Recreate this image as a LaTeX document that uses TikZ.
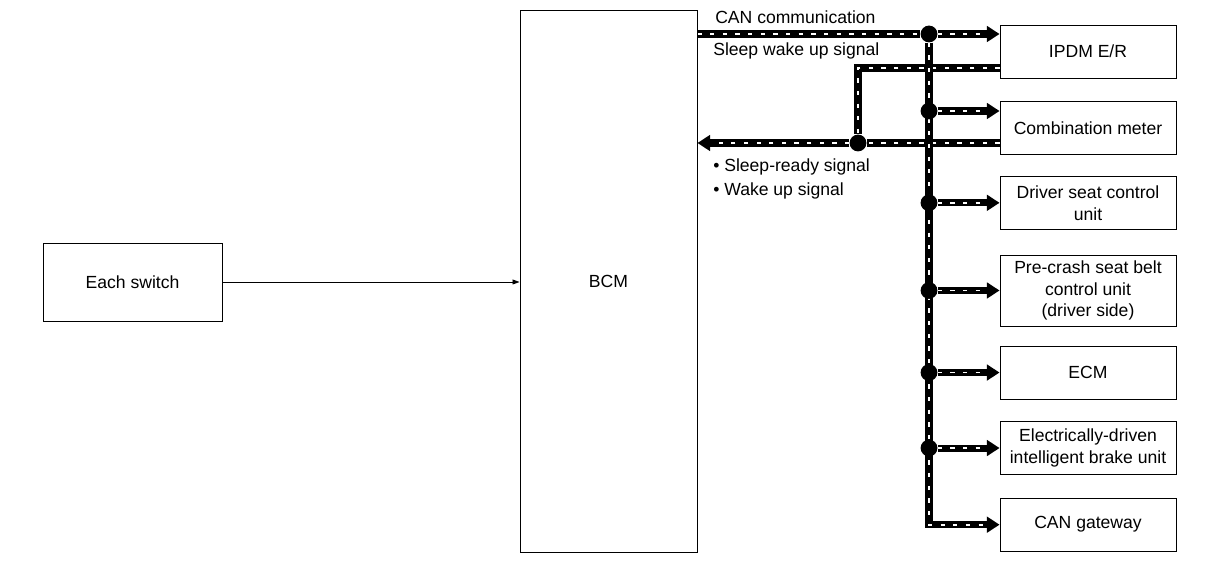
\documentclass[tikz,border=0pt]{standalone}
\usepackage{fontspec}
\setmainfont{Liberation Sans}
\usetikzlibrary{arrows.meta,positioning,backgrounds}

\begin{document}
\begin{tikzpicture}[
    x=0.025cm, y=-0.025cm,
    font=\fontsize{12.5}{15.5}\selectfont,
    unit/.style={draw, line width=0.6pt, minimum width=4.4cm, minimum height=1.325cm, align=center, inner sep=2pt},
    sig/.style={anchor=base west, inner sep=0pt},
    dot/.style={circle, fill=black, inner sep=0pt, minimum size=0.42cm},
    feed/.style={draw, line width=0.6pt, -{Triangle[length=5pt,width=3.5pt]}},
    bus/.style={draw, line width=5pt,
        postaction={draw=white, line width=1.3pt, dash pattern=on 3pt off 6pt}},
    busto/.style={draw, line width=5pt, -{Triangle[length=9pt,width=11pt]},
        postaction={draw=white, line width=1.3pt, dash pattern=on 3pt off 6pt, arrows=-, shorten >=10pt}}
]
\useasboundingbox (0,0) rectangle (1216,582);

% Main units
\node[unit, minimum width=4.475cm, minimum height=1.95cm] (sw) at (132.5,282) {Each switch};
\node[unit, minimum width=4.425cm, minimum height=13.55cm] (bcm) at (608.5,281) {BCM};

% CAN units
\node[unit] (ipdm) at (1088,51.5) {IPDM E/R};
\node[unit, below=0.56cm of ipdm] (comb) {Combination meter};
\node[unit, below=0.53cm of comb] (drv) {Driver seat control\\unit};
\node[unit, below=0.62cm of drv, minimum height=1.775cm] (pre) {Pre-crash seat belt\\control unit\\(driver side)};
\node[unit, below=0.48cm of pre] (ecm) {ECM};
\node[unit, below=0.54cm of ecm] (elec) {Electrically-driven\\intelligent brake unit};
\node[unit, below=0.57cm of elec] (gw) {CAN gateway};

% Junctions
\coordinate (busx) at (929,0);
\coordinate (wk) at (858,68);
\node[dot] (j1) at (929,34) {};
\node[dot] (j2) at (929,111) {};
\node[dot] (j3) at (busx |- drv) {};
\node[dot] (j4) at (busx |- pre) {};
\node[dot] (j5) at (busx |- ecm) {};
\node[dot] (j6) at (busx |- elec) {};
\node[dot] (s) at (858,143) {};

% Signal labels
\node[sig] (can) at (715,24) {CAN communication};
\node[sig] (wake) at (713,56) {Sleep wake up signal};
\node[sig] (ready) at (713,172) {\textbullet\ Sleep-ready signal};
\node[sig] (wkup) at (713,196) {\textbullet\ Wake up signal};

% Connections
\draw[feed] (sw) -- (sw -| bcm.west);

\begin{scope}[on background layer]
\draw[bus] (wk -| ipdm.west) -- (wk) -- (s);
\draw[bus] (s -| comb.west) -- (s);
\draw[busto] (s) -- (s -| bcm.east);

\draw[bus] (j1 -| bcm.east) -- (j1);
\draw[busto] (j1) |- (gw.west);
\draw[busto] (j1) -- (j1 -| ipdm.west);
\draw[busto] (j2) -- (j2 -| comb.west);
\draw[busto] (j3) -- (drv);
\draw[busto] (j4) -- (pre);
\draw[busto] (j5) -- (ecm);
\draw[busto] (j6) -- (elec);
\end{scope}

\end{tikzpicture}
\end{document}
